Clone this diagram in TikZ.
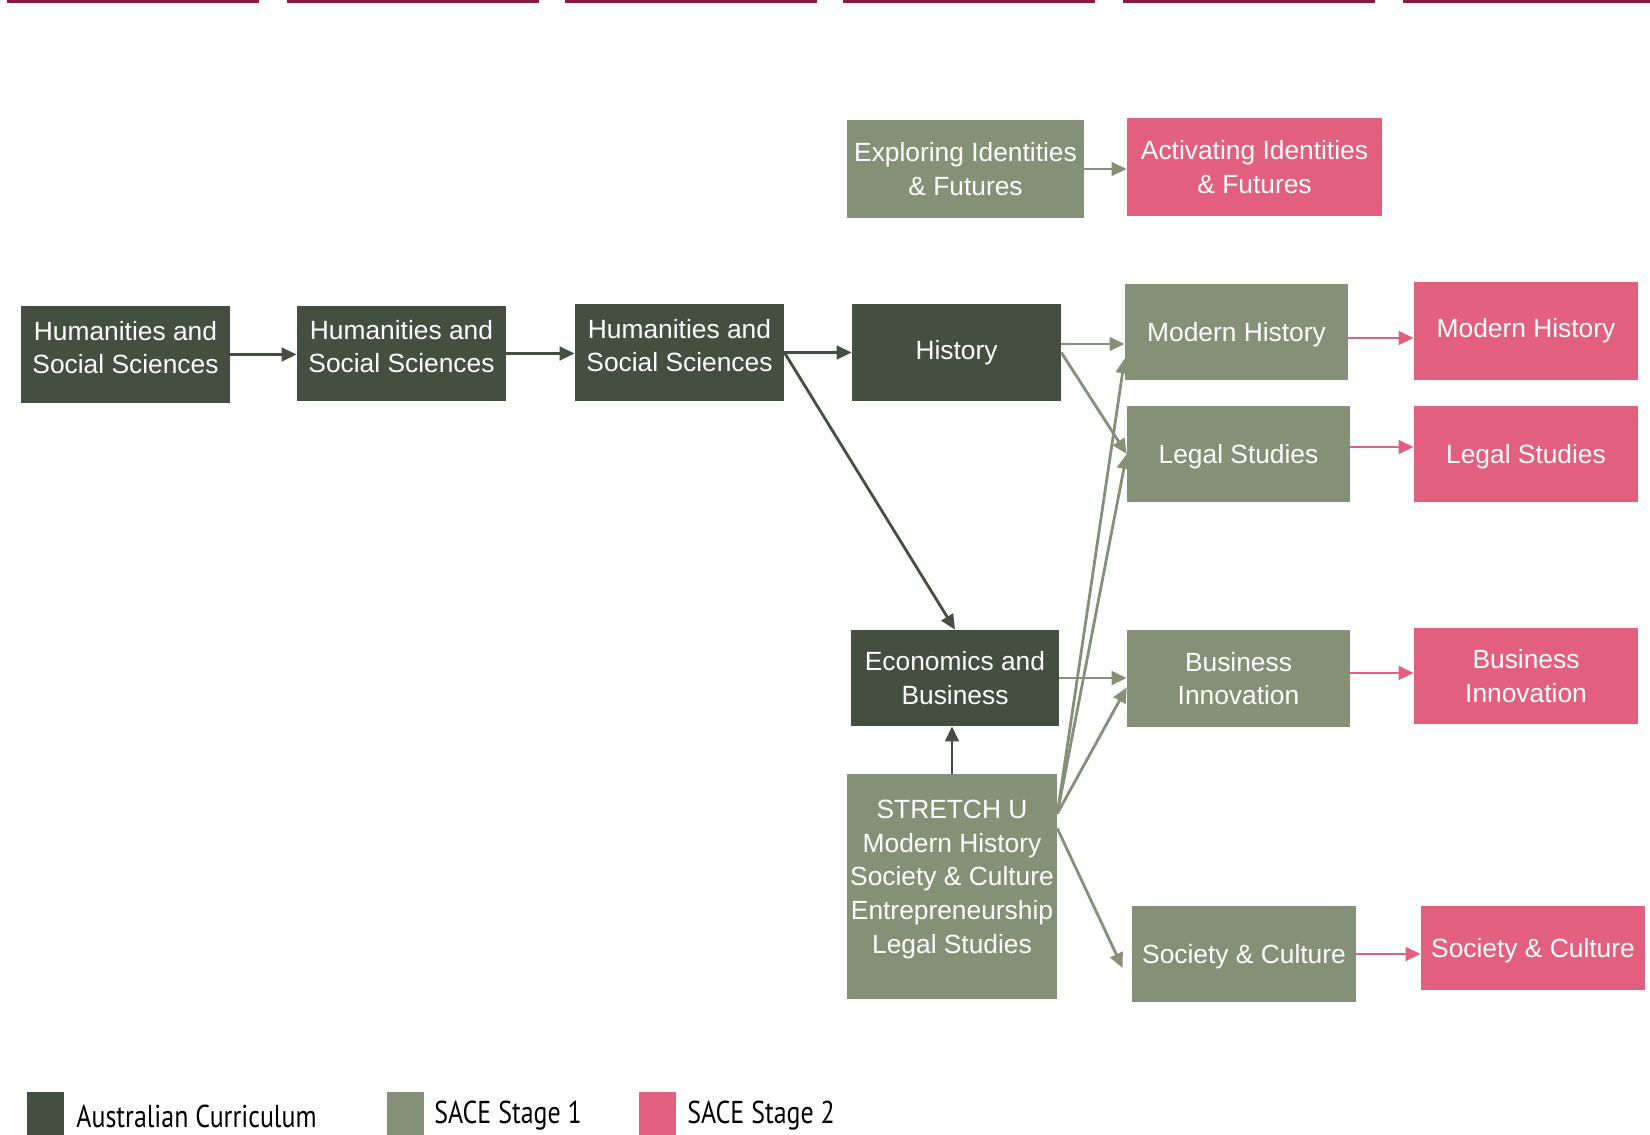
\documentclass[tikz,border=0pt]{standalone}
\usepackage{fontspec}
\setmainfont{Liberation Sans}
\newfontfamily\legendfont[FakeStretch=0.82]{PT Sans}
\usetikzlibrary{arrows.meta}
\definecolor{acdark}{HTML}{454F3F}
\definecolor{sageone}{HTML}{849176}
\definecolor{pinktwo}{HTML}{E2607E}
\definecolor{topmaroon}{HTML}{8B1A3F}
\tikzset{
    block/.style={
        rectangle,
        inner sep=0pt,
        minimum width=4.18cm,
        minimum height=1.94cm,
        align=center,
        text=white,
        font=\fontsize{15}{19.2}\selectfont
    },
    acblock/.style={block, fill=acdark},
    oneblock/.style={block, fill=sageone},
    twoblock/.style={block, fill=pinktwo},
    keybox/.style={
        rectangle,
        inner sep=0pt,
        minimum width=0.74cm,
        minimum height=0.86cm
    },
    keytext/.style={
        anchor=west,
        inner sep=0pt,
        font=\legendfont\fontsize{18}{20}\selectfont
    },
    arrow/.style={
        line width=1.6pt,
        -{Triangle[length=0.3cm, width=0.27cm]}
    },
    acarrow/.style={arrow, draw=acdark, fill=acdark},
    onearrow/.style={arrow, draw=sageone, fill=sageone},
    twoarrow/.style={arrow, draw=pinktwo, fill=pinktwo},
    topline/.style={draw=topmaroon, line width=0.06cm}
}

\begin{document}
\begin{tikzpicture}[x=0.02cm, y=-0.02cm]
\useasboundingbox (0,0) rectangle (1650,1135);

% Top rule
\foreach \xa/\xb in {7/259, 287/539, 565/817, 843/1095, 1123/1375, 1403/1650}
    \draw[topline] (\xa,1.5) -- (\xb,1.5);

% Nodes
\node (hssa) [acblock, text depth=0.28cm] at (125.5,354.5) {Humanities and\\Social Sciences};
\node (hssb) [acblock, text depth=0.28cm, minimum height=1.90cm] at (401.5,353.5) {Humanities and\\Social Sciences};
\node (hssc) [acblock, text depth=0.28cm] at (679.5,352.5) {Humanities and\\Social Sciences};
\node (hist) [acblock] at (956.5,352.5) {History};
\node (econ) [acblock, minimum width=4.16cm, minimum height=1.92cm] at (955,678) {Economics and\\Business};
\node (stretch) [oneblock, text depth=0.39cm, minimum width=4.20cm, minimum height=4.50cm] at (952,886.5) {STRETCH U\\Modern History\\Society \& Culture\\Entrepreneurship\\Legal Studies};
\node (explore) [oneblock, minimum width=4.74cm, minimum height=1.96cm] at (965.5,169) {Exploring Identities\\\& Futures};
\node (activate) [twoblock, text depth=0pt, minimum width=5.10cm, minimum height=1.96cm] at (1254.5,167) {Activating Identities\\\& Futures};
\node (mhone) [oneblock, text depth=0pt, minimum width=4.46cm, minimum height=1.92cm] at (1236.5,332) {Modern History};
\node (lsone) [oneblock, text depth=0pt, minimum width=4.46cm, minimum height=1.92cm] at (1238.5,454) {Legal Studies};
\node (bione) [oneblock, minimum width=4.46cm] at (1238.5,678.5) {Business\\Innovation};
\node (scone) [oneblock, text depth=0pt, minimum width=4.48cm, minimum height=1.92cm] at (1244,954) {Society \& Culture};
\node (mhtwo) [twoblock, minimum width=4.48cm, minimum height=1.96cm] at (1526,331) {Modern History};
\node (lstwo) [twoblock, text depth=0pt, minimum width=4.48cm, minimum height=1.92cm] at (1526,454) {Legal Studies};
\node (bitwo) [twoblock, minimum width=4.48cm, minimum height=1.92cm] at (1526,676) {Business\\Innovation};
\node (sctwo) [twoblock, text depth=0pt, minimum width=4.48cm, minimum height=1.68cm] at (1533,948) {Society \& Culture};

% Arrows
\draw[acarrow] (hssa.east) -- (hssa.east -| hssb.west);
\draw[acarrow] (hssb.east) -- (hssb.east -| hssc.west);
\draw[acarrow] (hssc.east) -- (hist.west);
\draw[acarrow] (hssc.east) -- (econ.north);
\draw[acarrow] (stretch.north) -- (stretch.north |- econ.south);
\draw[onearrow] (explore.east) -- (explore.east -| activate.west);
\draw[onearrow] ([yshift=0.17cm]hist.east) -- ([yshift=0.17cm]hist.east -| mhone.west);
\draw[onearrow] (hist.east) -- (lsone.west);
\draw[onearrow] (econ.east) -- (econ.east -| bione.west);
\draw[onearrow] ([yshift=1.46cm]stretch.east) -- ([yshift=0.44cm]mhone.south west);
\draw[onearrow] ([yshift=1.46cm]stretch.east) -- (lsone.west);
\draw[onearrow] ([yshift=1.46cm]stretch.east) -- ([yshift=-0.18cm]bione.west);
\draw[onearrow] ([yshift=1.16cm]stretch.east) -- ([xshift=-0.18cm, yshift=-0.28cm]scone.west);
\draw[twoarrow] ([yshift=-0.12cm]mhone.east) -- ([yshift=-0.12cm]mhone.east -| mhtwo.west);
\draw[twoarrow] ([yshift=0.14cm]lsone.east) -- ([yshift=0.14cm]lsone.east -| lstwo.west);
\draw[twoarrow] ([yshift=0.11cm]bione.east) -- ([yshift=0.11cm]bione.east -| bitwo.west);
\draw[twoarrow] (scone.east) -- (scone.east -| sctwo.west);

% Legend
\node (keyac) [keybox, fill=acdark] at (45.5,1113.5) {};
\node (keyactext) [keytext] at (76,1116) {Australian Curriculum};
\node (keyone) [keybox, fill=sageone] at (405.5,1113.5) {};
\node (keyonetext) [keytext] at (434,1116) {SACE Stage 1};
\node (keytwo) [keybox, fill=pinktwo] at (657.5,1113.5) {};
\node (keytwotext) [keytext] at (687,1116) {SACE Stage 2};

\end{tikzpicture}
\end{document}
